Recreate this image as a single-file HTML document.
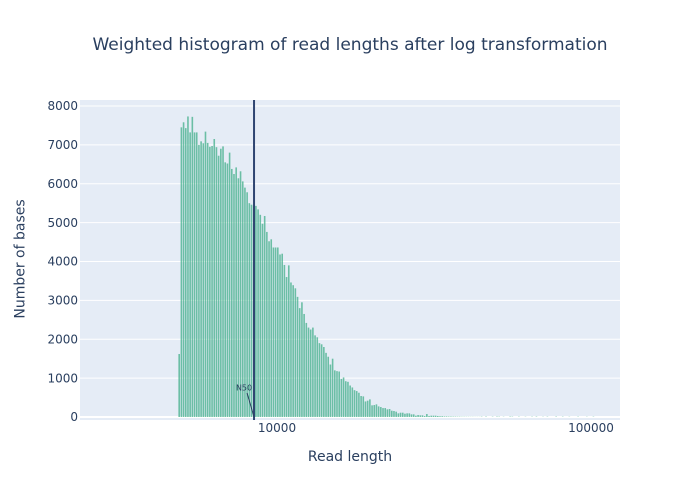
<!DOCTYPE html>
<html>
<head>
<meta charset="utf-8">
<title>Weighted histogram of read lengths after log transformation</title>
<style>
html,body{margin:0;padding:0;background:#fff;}
svg{display:block;font-family:"DejaVu Sans","Liberation Sans",sans-serif;}
text{fill:#2a3f5f;}
</style>
</head>
<body>
<svg id="chart" width="700" height="500" viewBox="0 0 700 500" xmlns="http://www.w3.org/2000/svg">
  <rect width="700" height="500" fill="#fff"/>
  <rect x="80" y="100" width="540" height="320" fill="#E5ECF6"/>
  <g id="grid"></g>
  <g id="bars"></g>
  <g id="marker"></g>
  <g id="yticks"></g>
  <g id="xticks"></g>
  <text x="350" y="50" text-anchor="middle" font-size="17.03">Weighted histogram of read lengths after log transformation</text>
  <text x="350" y="461" text-anchor="middle" font-size="14">Read length</text>
  <text x="24.5" y="259" text-anchor="middle" font-size="14" transform="rotate(-90 24.5 259)">Number of bases</text>
</svg>
<script>
const logBinStart = 3.6885;
const logBinStep = 0.00698;
const baseCounts = [
  1620,7450,7580,7430,7730,7320,7720,7320,7320,7000,7090,7040,7340,7050,6950,6970,7150,6940,6720,6900,
  6960,6550,6520,6800,6380,6250,6420,6140,6320,6060,5900,5780,5500,5460,5440,5430,5340,5200,4970,5170,
  4760,4520,4570,4360,4360,4360,4180,4200,3910,3600,3900,3460,3390,3310,3090,2800,2950,2650,2420,2300,
  2250,2300,2100,2050,1900,1870,1800,1650,1550,1350,1500,1200,1180,1170,980,1017,920,905,
  810,760,690,667,624,540,530,400,420,453,300,308,325,273,256,230,230,197,205,162,
  154,137,94,111,111,85,94,94,68,68,34,51,43,43,25,77,25,34,34,34,
  25,20,20,15,15,12,12,10,10,8,8,6,6,5,5,4,4,3,3,3,
  8,0,10,0,0,8,0,10,8,0,6,0,0,10,8,0,0,8,0,0,
  6,0,0,8,0,10,0,0,6,0,8,0,0,0,10,0,0,8,0,0,
  6,0,0,0,8,0,0,0,6,0,0,8
];
const yTickValues = [0,1000,2000,3000,4000,5000,6000,7000,8000];
const xTickValues = [10000,100000];
const n50Value = 8450;

const svgNS = 'http://www.w3.org/2000/svg';
function xScale(v){ return 277 + (Math.log10(v) - 4) * 314; }
function yScale(v){ return 417 - v * 0.03888; }

const grid = document.getElementById('grid');
const yticks = document.getElementById('yticks');
const xticks = document.getElementById('xticks');
const bars = document.getElementById('bars');
const marker = document.getElementById('marker');

yTickValues.forEach(function(t){
  const line = document.createElementNS(svgNS,'line');
  
  
  line.setAttribute('x1', 80);
  line.setAttribute('x2', 620);
  line.setAttribute('y1', yScale(t));
  line.setAttribute('y2', yScale(t));
  line.setAttribute('stroke', '#fff');
  line.setAttribute('stroke-width', t === 0 ? 2 : 1);
  grid.appendChild(line);
  const label = document.createElementNS(svgNS,'text');
  
  
  label.setAttribute('x', 78);
  label.setAttribute('y', yScale(t) + 4.2);
  label.setAttribute('text-anchor', 'end');
  label.setAttribute('font-size', '12');
  label.textContent = t;
  yticks.appendChild(label);
});

xTickValues.forEach(function(t){
  const label = document.createElementNS(svgNS,'text');
  
  
  label.setAttribute('x', xScale(t));
  label.setAttribute('y', 432);
  label.setAttribute('text-anchor', 'middle');
  label.setAttribute('font-size', '12');
  label.textContent = t;
  xticks.appendChild(label);
});

baseCounts.forEach(function(c, i){
  if (c <= 0) return;
  const center = xScale(Math.pow(10, logBinStart + i * logBinStep));
  const rect = document.createElementNS(svgNS,'rect');
  
  
  rect.setAttribute('x', center - 0.8);
  rect.setAttribute('width', 1.6);
  rect.setAttribute('y', yScale(c));
  rect.setAttribute('height', yScale(0) - yScale(c));
  rect.setAttribute('fill', '#4CB391');
  rect.setAttribute('fill-opacity', '0.8');
  bars.appendChild(rect);
});

const nx = xScale(n50Value);
const nline = document.createElementNS(svgNS,'line');


nline.setAttribute('x1', nx);
nline.setAttribute('x2', nx);
nline.setAttribute('y1', 100);
nline.setAttribute('y2', 420);
nline.setAttribute('stroke', '#2f4571');
nline.setAttribute('stroke-width', 2);
marker.appendChild(nline);

const arrow = document.createElementNS(svgNS,'line');


arrow.setAttribute('x1', nx - 7);
arrow.setAttribute('y1', 393);
arrow.setAttribute('x2', nx);
arrow.setAttribute('y2', 417);
arrow.setAttribute('stroke', '#2a3f5f');
arrow.setAttribute('stroke-width', 1);
marker.appendChild(arrow);

const note = document.createElementNS(svgNS,'text');


note.setAttribute('x', nx - 10);
note.setAttribute('y', 390.5);
note.setAttribute('text-anchor', 'middle');
note.setAttribute('font-size', '8');
note.textContent = 'N50';
marker.appendChild(note);
</script>
</body>
</html>
